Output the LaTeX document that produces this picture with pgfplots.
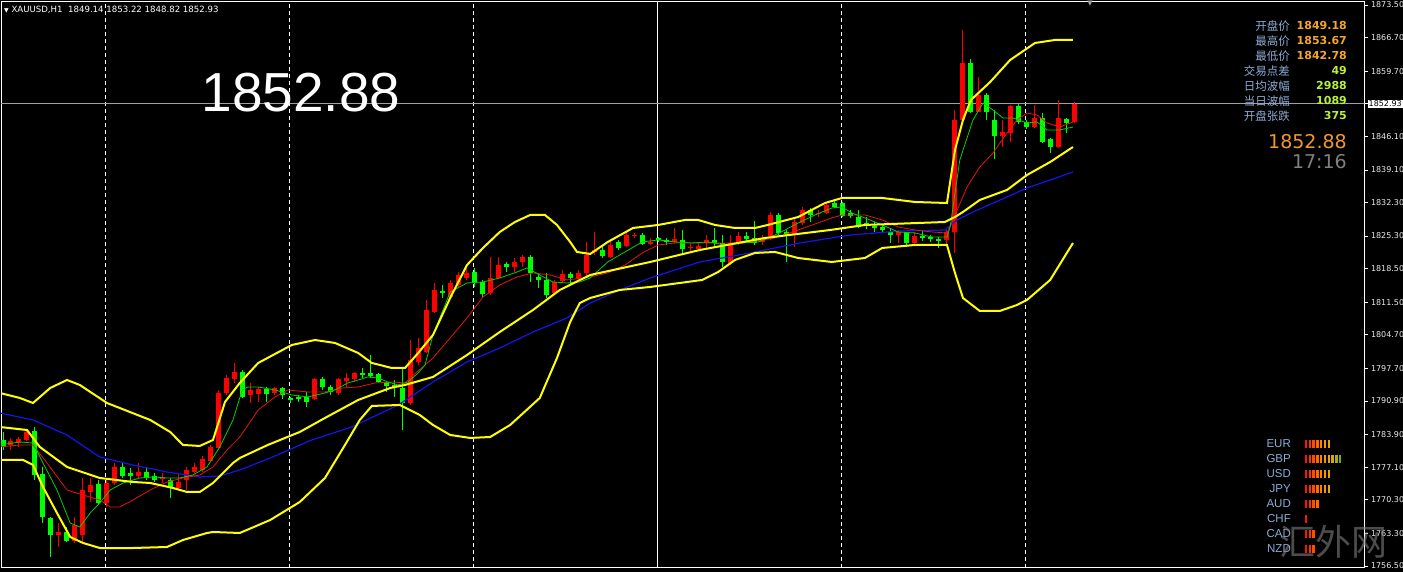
\documentclass[border=0pt]{standalone}
\usepackage{pgfplots}
\pgfplotsset{compat=1.18}
\usepackage{pgfplotstable}
\usepackage{fontspec}
\setmainfont{DejaVu Sans}
\newfontfamily\lib{Liberation Sans}
\newfontfamily\cjk{Noto Sans CJK SC}
\definecolor{candup}{RGB}{255,0,0}
\definecolor{canddn}{RGB}{0,255,0}
\definecolor{bband}{RGB}{255,255,0}
\definecolor{maBlue}{RGB}{20,20,235}
\definecolor{maRed}{RGB}{230,20,20}
\definecolor{maGreen}{RGB}{0,210,0}
\definecolor{lblue}{RGB}{140,172,214}
\definecolor{vorange}{RGB}{245,165,40}
\definecolor{vgreen}{RGB}{185,240,60}
\definecolor{bigorange}{RGB}{240,150,50}
\definecolor{curline}{RGB}{160,160,160}
\definecolor{ticktext}{RGB}{235,235,235}

% red candles: close above open
\pgfplotstableread{
i o h l c
1 1781.73 1783.19 1780.69 1782.57
2 1782.15 1783.40 1781.32 1782.99
3 1782.78 1785.07 1782.57 1784.44
7 1762.97 1765.47 1760.47 1763.59
9 1761.71 1766.72 1761.30 1765.05
10 1762.97 1774.86 1761.30 1772.35
11 1771.93 1774.86 1769.85 1773.40
13 1769.64 1774.44 1768.81 1773.81
14 1773.81 1777.98 1773.40 1777.15
17 1775.27 1777.98 1774.86 1776.11
20 1774.65 1775.90 1773.81 1775.06
22 1772.77 1775.90 1772.35 1774.02
23 1774.44 1777.15 1772.35 1776.52
24 1776.11 1777.98 1775.90 1777.15
25 1776.52 1779.44 1776.11 1778.82
26 1778.40 1781.73 1778.19 1781.32
27 1781.11 1793.21 1780.69 1792.58
28 1792.58 1796.34 1792.16 1795.71
29 1795.50 1798.84 1794.67 1796.96
31 1792.16 1794.67 1790.50 1793.21
32 1792.37 1793.83 1790.70 1793.41
34 1792.58 1793.83 1792.16 1793.62
39 1791.33 1795.71 1791.12 1795.50
42 1792.58 1795.71 1792.16 1795.50
43 1795.08 1796.75 1793.83 1795.71
44 1795.50 1796.96 1794.87 1796.75
51 1790.50 1803.63 1790.08 1799.46
52 1799.05 1804.05 1798.42 1801.96
53 1801.13 1811.97 1800.92 1809.89
54 1809.47 1815.52 1809.26 1814.06
56 1812.60 1816.14 1812.39 1815.52
57 1815.10 1817.81 1814.68 1817.19
58 1816.56 1818.65 1816.14 1817.60
61 1813.43 1820.94 1813.01 1816.56
62 1816.56 1820.94 1816.56 1819.27
64 1818.86 1820.73 1817.81 1819.90
65 1819.90 1821.36 1818.86 1820.94
69 1813.43 1816.14 1813.01 1815.73
70 1815.94 1818.23 1815.52 1817.40
72 1816.56 1818.23 1815.73 1817.60
73 1817.60 1824.07 1816.98 1821.36
74 1821.98 1826.16 1821.36 1822.40
76 1820.94 1824.07 1820.73 1823.45
78 1823.24 1826.16 1823.03 1825.53
79 1825.32 1825.95 1824.91 1825.53
81 1823.66 1824.91 1823.45 1824.07
84 1824.07 1826.99 1823.86 1824.70
86 1822.82 1823.66 1821.78 1823.03
87 1822.61 1824.07 1822.19 1823.24
88 1823.86 1825.53 1822.82 1824.49
91 1819.69 1825.53 1819.27 1823.86
92 1823.86 1826.16 1823.45 1825.32
95 1824.07 1825.53 1823.45 1824.49
96 1825.32 1830.33 1824.49 1829.70
99 1825.53 1829.08 1823.03 1828.24
100 1828.03 1831.37 1827.62 1830.74
102 1829.91 1830.74 1829.28 1830.12
103 1830.12 1832.21 1829.91 1831.79
112 1825.53 1826.57 1823.86 1826.16
114 1823.86 1826.16 1823.24 1825.32
118 1824.49 1826.57 1823.45 1826.16
119 1826.16 1851.60 1821.78 1849.51
120 1849.51 1868.28 1848.89 1861.40
122 1851.18 1858.48 1851.18 1854.73
125 1846.18 1849.51 1843.88 1847.01
126 1846.80 1852.64 1844.92 1852.43
129 1848.05 1852.64 1847.85 1849.93
132 1843.88 1853.69 1843.67 1849.93
134 1849.14 1853.22 1848.82 1852.93
}\upcandles

% green candles: close below open
\pgfplotstableread{
i o h l c
0 1782.78 1784.44 1780.69 1781.32
4 1784.65 1785.48 1774.44 1775.48
5 1775.69 1777.15 1765.47 1766.72
6 1766.51 1766.72 1758.38 1762.97
8 1763.59 1764.64 1761.50 1761.71
12 1773.61 1774.44 1769.22 1769.64
15 1777.15 1778.19 1774.86 1775.27
16 1775.90 1776.94 1773.40 1775.27
18 1776.11 1776.94 1774.44 1774.86
19 1775.27 1775.90 1774.02 1774.44
21 1774.44 1774.86 1770.68 1772.77
30 1796.96 1797.38 1791.54 1791.75
33 1793.41 1793.83 1790.70 1792.37
35 1793.62 1793.83 1791.33 1792.16
36 1791.54 1791.75 1790.50 1791.12
37 1791.75 1792.16 1790.70 1791.33
38 1791.75 1792.79 1789.66 1790.70
40 1795.50 1795.92 1793.21 1793.83
41 1793.83 1794.25 1792.16 1792.79
45 1796.75 1797.79 1795.71 1796.34
46 1796.75 1800.50 1795.71 1796.13
47 1796.54 1796.75 1794.67 1794.87
48 1794.87 1794.87 1792.79 1794.04
49 1794.25 1795.29 1791.75 1793.83
50 1793.62 1797.79 1784.86 1790.50
55 1813.85 1815.10 1812.39 1813.43
59 1817.81 1818.65 1814.68 1815.73
60 1815.73 1816.14 1812.60 1813.22
63 1819.48 1819.90 1817.81 1818.86
66 1820.94 1821.36 1815.73 1817.60
67 1816.77 1817.60 1814.48 1816.14
68 1816.14 1817.60 1812.39 1813.01
71 1817.40 1817.81 1815.10 1816.56
75 1822.40 1823.45 1820.73 1821.15
77 1824.07 1824.49 1822.40 1822.82
80 1825.53 1825.95 1823.45 1823.66
82 1824.91 1825.11 1824.07 1824.49
83 1824.49 1824.91 1823.45 1824.07
85 1824.49 1826.57 1821.78 1822.61
89 1824.49 1826.99 1823.03 1823.86
90 1823.86 1825.53 1818.86 1819.90
93 1825.32 1826.16 1824.07 1824.70
94 1824.91 1828.45 1823.45 1823.86
97 1829.70 1830.12 1825.53 1825.95
98 1826.16 1826.57 1819.90 1825.74
101 1830.74 1831.16 1828.24 1829.70
104 1832.21 1832.83 1831.16 1831.37
105 1832.21 1832.41 1829.28 1829.49
106 1830.12 1830.74 1829.08 1829.49
107 1829.28 1830.74 1826.99 1827.20
108 1828.03 1829.28 1826.78 1827.41
109 1827.41 1828.24 1826.16 1826.99
110 1827.20 1827.62 1825.95 1826.57
111 1826.16 1826.99 1823.86 1825.53
113 1826.16 1826.16 1823.03 1823.86
115 1825.32 1826.57 1824.28 1824.91
116 1825.11 1825.53 1824.07 1824.70
117 1824.70 1825.11 1822.82 1824.28
121 1861.40 1862.24 1850.97 1851.18
123 1854.73 1855.14 1849.51 1851.18
124 1849.51 1851.60 1841.38 1846.18
127 1852.43 1852.85 1848.68 1849.10
128 1849.10 1849.51 1847.64 1848.05
130 1849.93 1850.97 1844.72 1844.92
131 1845.55 1845.76 1842.63 1843.88
133 1849.72 1849.93 1846.80 1848.89
}\dncandles

\pgfplotstableread{
x y
-0.4 1792.58
2.1 1791.54
3.75 1790.49
5.9 1793.62
8 1795.29
9.6 1794.25
13 1790.49
18.4 1786.95
20.9 1784.45
22.5 1781.74
24.6 1781.53
26.25 1782.78
27.75 1790.70
29.6 1794.67
31.9 1798.84
36.1 1802.59
39 1803.63
41.5 1803.01
44.4 1800.92
46.1 1798.84
48.6 1797.79
50.25 1797.79
51.9 1800.92
53.75 1804.68
55.9 1812.39
58 1819.27
60 1822.82
62.1 1826.16
64 1828.24
65.9 1829.70
67.75 1829.70
69.25 1827.62
70.9 1824.07
71.75 1821.99
73.4 1821.57
75.6 1824.07
78.75 1826.99
81.9 1827.62
85.25 1828.66
86.9 1828.66
89 1827.62
91.5 1826.99
94 1826.99
95.6 1827.62
99.4 1829.28
102.75 1832.20
104.9 1833.25
109.9 1833.25
114 1832.41
118 1832.20
119 1843.26
120 1849.51
121 1853.69
123.4 1857.44
125.9 1862.03
129 1865.57
131.5 1866.20
133.75 1866.20
}\upperband

\pgfplotstableread{
x y
-0.4 1785.49
3 1784.86
4.6 1781.32
8 1777.15
12.1 1774.85
16.25 1774.02
18.4 1773.81
21.25 1772.77
23 1771.93
24.6 1771.93
26.25 1773.81
28.75 1777.98
29.6 1779.02
33.1 1781.74
37.1 1784.45
40.25 1787.37
44.4 1791.12
48.4 1793.62
50.25 1794.25
53.75 1795.92
58 1800.50
62.1 1805.30
66.25 1809.89
69.6 1814.06
73.4 1817.19
80.9 1819.90
87.1 1822.40
95.25 1824.91
103.4 1826.57
107.75 1827.62
117.75 1828.24
119 1829.28
120 1830.33
122.1 1832.83
125.5 1834.92
128 1838.04
130.9 1840.75
133.75 1843.88
}\midband

\pgfplotstableread{
x y
-0.4 1778.61
2.5 1778.61
3.75 1777.56
5 1772.98
6.75 1767.55
8.4 1762.55
10 1761.30
12.1 1760.25
16.25 1760.25
20.5 1760.46
22.5 1761.92
25.5 1763.38
26.25 1763.59
29.6 1763.38
33.4 1766.09
37.1 1769.85
40.25 1774.85
42.75 1781.74
44.6 1786.95
46.1 1789.87
49.6 1790.08
52.1 1787.99
53.75 1785.91
55.9 1783.82
58.4 1783.20
60.9 1783.40
63.4 1785.91
67.1 1791.54
69.25 1799.88
70.9 1807.39
72.1 1811.35
73.4 1812.39
77.1 1814.06
80.9 1814.69
84.6 1815.52
87.4 1816.15
89.4 1817.81
91.5 1820.32
94 1821.78
96.5 1821.99
99.4 1820.73
103.6 1819.90
107.75 1820.73
109.9 1822.82
114 1823.45
118 1823.45
119 1817.61
120 1812.39
122.1 1809.68
124.6 1809.68
126.75 1810.93
128 1811.97
130.9 1816.15
133.75 1823.86
}\lowerband

\pgfplotstableread{
x y
-0.4 1788.41
3.75 1786.95
8 1783.82
12.1 1779.23
16.25 1777.56
20.5 1776.10
24.6 1775.06
27.1 1775.27
29.6 1776.52
33.4 1779.02
38.6 1782.78
43.6 1785.49
49.4 1790.08
53.75 1794.87
58 1799.04
62.1 1801.96
66.25 1805.30
70.5 1808.22
73.4 1811.35
77.1 1814.06
80.9 1816.56
87.1 1819.90
93.4 1821.78
99.6 1823.86
105.9 1825.53
112.1 1826.36
117.75 1826.57
119.25 1828.66
121.25 1830.33
125.5 1833.46
128 1835.33
130.9 1837.00
133.75 1838.67
}\blueMA

\pgfplotstableread{
x y
-0.4 1781.32
2.1 1781.74
3.75 1781.74
5.5 1777.98
8 1772.35
10 1771.31
12.1 1770.26
13.4 1768.81
14.6 1768.81
16.25 1770.26
18.4 1772.35
20.5 1774.02
22.5 1774.85
24.6 1775.48
26.25 1777.15
28 1780.69
29.6 1783.40
31.9 1789.03
34 1791.75
35.6 1793.21
38.1 1792.79
40.25 1792.79
42.4 1793.62
44.4 1793.83
46.5 1794.67
48.6 1794.87
50.25 1794.67
51.75 1796.96
53.75 1799.88
55.9 1804.05
58 1808.22
60 1812.60
62.1 1815.10
64.25 1816.77
66.25 1817.61
68.4 1817.19
70.5 1816.15
73.4 1816.77
75.6 1817.61
77.75 1819.27
79.9 1821.78
81.9 1823.45
84 1823.86
88.1 1823.86
92.4 1823.86
96.5 1824.91
99.4 1826.57
103.6 1829.08
104.9 1829.70
107.75 1829.70
109.9 1828.66
111.9 1827.20
114 1826.57
116.1 1826.16
118 1825.95
118.75 1828.66
120.5 1835.54
122.1 1839.71
123.75 1842.63
125.5 1846.80
126.75 1849.51
128 1850.97
129.25 1850.56
130.5 1848.89
132.1 1848.05
133.75 1849.10
}\redMA

\pgfplotstableread{
x y
-0.4 1781.74
2.1 1782.36
3.75 1782.15
5 1777.98
6.75 1772.35
8.4 1765.47
9.6 1764.63
10.9 1767.55
12.1 1769.64
13.4 1772.35
15 1773.81
17.1 1774.85
18.75 1775.06
20.5 1774.85
22.1 1774.85
23.75 1775.48
25.5 1777.15
27.1 1781.32
28.75 1786.95
29.9 1793.21
30.6 1793.83
31.9 1793.83
34 1793.21
36.1 1792.16
38.1 1791.75
40.25 1792.58
41.5 1793.21
43.1 1794.67
44.4 1795.29
45.6 1795.92
46.9 1795.71
48.1 1794.87
49.4 1794.25
50.6 1794.87
51.9 1796.75
52.75 1798.42
53.75 1804.68
55.9 1813.64
58 1815.52
60 1815.73
62.1 1816.56
64.25 1817.81
65.5 1818.65
67.1 1817.19
68.75 1815.73
70.5 1815.52
72.1 1815.73
73.4 1816.56
75.6 1819.90
77.75 1821.99
79.9 1824.07
81.9 1824.49
84 1824.07
86.1 1823.86
88.1 1824.07
90.25 1823.45
92.4 1823.86
94.4 1824.07
96.5 1825.53
97.75 1826.57
99.4 1828.03
101.5 1829.70
103.6 1831.16
104.9 1831.37
106.1 1830.12
107.75 1829.08
109.9 1827.62
111.9 1826.16
114 1825.95
116.1 1825.11
118 1825.11
118.4 1827.20
119.6 1841.17
121.25 1849.51
122.5 1853.06
123.75 1851.60
125 1849.93
126.25 1849.93
128 1848.89
129.25 1849.10
130.5 1847.43
132.1 1847.43
133.75 1848.05
}\greenMA

\pgfplotstableread{
k row
0 7
1 7
2 7
3 7
4 7
5 7
6 7
0 6
1 6
2 6
3 6
4 6
5 6
6 6
7 6
8 6
9 6
0 5
1 5
2 5
3 5
4 5
5 5
6 5
0 4
1 4
2 4
3 4
4 4
5 4
6 4
0 3
1 3
2 3
3 3
0 2
0 1
1 1
2 1
0 0
1 0
2 0
}\strength

\begin{document}
\begin{tikzpicture}[x=1pt,y=1pt]
\useasboundingbox (0,0) rectangle (1403,572);
\fill[black] (0,0) rectangle (1403,572);
\begin{axis}[
  at={(1pt,4pt)}, anchor=south west,
  scale only axis, width=1363.5pt, height=566pt,
  xmin=-0.25, xmax=170.19, ymin=1756.08, ymax=1874.12,
  axis line style={white, line width=1pt},
  xtick={12.875,35.875,58.875,104.875,127.875},
  xticklabels={},
  xtick style={draw=none},
  xmajorgrids,
  major grid style={white, line width=1pt, dash pattern=on 4pt off 3pt},
  ytick={1756.5,1763.3,1770.3,1777.1,1783.9,1790.9,1797.7,1804.7,1811.5,1818.5,1825.3,1832.3,1839.1,1846.1,1859.7,1866.7,1873.5},
  ytick pos=right, yticklabel pos=right,
  tick align=outside, major tick length=4pt,
  ytick style={white, line width=0.8pt},
  /pgf/number format/fixed,
  /pgf/number format/fixed zerofill,
  /pgf/number format/precision=2,
  /pgf/number format/1000 sep={},
  /pgf/number format/assume math mode=true,
  yticklabel style={font=\fontsize{8}{8}\selectfont, text=ticktext, anchor=west, xshift=-1pt},
  extra y ticks={1852.93},
  extra y tick style={yticklabel style={fill=white, text=black, inner sep=1pt}},
]
% solid separator line
\addplot[white, line width=1pt, forget plot] coordinates {(81.875,1750) (81.875,1880)};
% current price line
\addplot[curline, line width=1pt, forget plot] coordinates {(-1,1852.93) (171,1852.93)};
% wicks
\addplot[draw=none, mark=none, forget plot,
  error bars/.cd, y dir=plus, y explicit, error mark=none,
  error bar style={draw=candup, line width=1pt}]
  table[x=i, y=l, y error plus expr={\thisrow{h}-\thisrow{l}}]{\upcandles};
\addplot[draw=none, mark=none, forget plot,
  error bars/.cd, y dir=plus, y explicit, error mark=none,
  error bar style={draw=canddn, line width=1pt}]
  table[x=i, y=l, y error plus expr={\thisrow{h}-\thisrow{l}}]{\dncandles};
% bodies
\addplot[draw=none, mark=none, forget plot,
  error bars/.cd, y dir=plus, y explicit, error mark=none,
  error bar style={draw=candup, line width=5pt}]
  table[x=i, y=o, y error plus expr={max(\thisrow{c}-\thisrow{o},0.25)}]{\upcandles};
\addplot[draw=none, mark=none, forget plot,
  error bars/.cd, y dir=plus, y explicit, error mark=none,
  error bar style={draw=canddn, line width=5pt}]
  table[x=i, y=c, y error plus expr={max(\thisrow{o}-\thisrow{c},0.25)}]{\dncandles};
% indicators
\addplot[maBlue, line width=1.2pt] table[x=x,y=y]{\blueMA};
\addplot[maRed, line width=0.8pt] table[x=x,y=y]{\redMA};
\addplot[maGreen, line width=0.8pt] table[x=x,y=y]{\greenMA};
\addplot[bband, line width=2pt] table[x=x,y=y]{\upperband};
\addplot[bband, line width=2pt] table[x=x,y=y]{\midband};
\addplot[bband, line width=2pt] table[x=x,y=y]{\lowerband};
\end{axis}

% currency strength stripes
\begin{axis}[
  at={(1304.1pt,15.5pt)}, anchor=south west,
  scale only axis, width=38pt, height=120pt,
  hide axis, clip=false,
  xmin=-0.5, xmax=9.5, ymin=-0.5, ymax=7.5,
  colormap={strength}{rgb255=(255,20,0) rgb255=(255,70,0) rgb255=(255,120,0) rgb255=(245,160,0) rgb255=(205,175,0) rgb255=(120,175,20)},
  point meta min=0, point meta max=9,
]
\addplot[scatter, only marks, mark=|, mark size=4pt, scatter src=x,
  mark options={line width=2.4pt},
  scatter/use mapped color={draw=mapped color, fill=mapped color}]
  table[x=k, y=row]{\strength};
\end{axis}

% header
\node[anchor=west, text=white, font=\fontsize{8.6}{9}\selectfont, inner sep=0pt] at (4,562)
  {{\fontsize{6}{6}\selectfont ▼}\ XAUUSD,H1\ \ 1849.14 1853.22 1848.82 1852.93};
\node[text=curline, font=\fontsize{7}{7}\selectfont, inner sep=0pt] at (1090,568) {▼};
% big price
\node[text=white, font=\lib\fontsize{55}{55}\selectfont, inner sep=0pt] at (301,479.5) {1852.88};

% info panel
\foreach \lab/\val/\col [count=\n from 0] in {开盘价/1849.18/vorange, 最高价/1853.67/vorange, 最低价/1842.78/vorange, 交易点差/49/vgreen, 日均波幅/2988/vgreen, 当日波幅/1089/vgreen, 开盘张跌/375/vgreen}{
  \node[anchor=east, text=lblue, font=\cjk\fontsize{11.5}{12}\selectfont, inner sep=0pt] at (1290,{546-15*\n}) {\lab};
  \node[anchor=east, text=\col, font=\bfseries\fontsize{11}{12}\selectfont, inner sep=0pt] at (1347,{546-15*\n}) {\val};
}
\node[anchor=east, text=bigorange, font=\fontsize{19}{20}\selectfont, inner sep=0pt] at (1347,430) {1852.88};
\node[anchor=east, text=gray, font=\fontsize{19}{20}\selectfont, inner sep=0pt] at (1347,410.5) {17:16};

% currency labels
\foreach \cur [count=\n from 0] in {EUR,GBP,USD,JPY,AUD,CHF,CAD,NZD}{
  \node[anchor=east, text=lblue, font=\lib\fontsize{11.5}{12}\selectfont, inner sep=0pt] at (1291,{128-15*\n}) {\cur};
}
% watermark
\node[text=gray, opacity=0.6, font=\cjk\fontsize{36}{36}\selectfont, inner sep=0pt] at (1333,30) {汇外网};
\end{tikzpicture}
\end{document}
